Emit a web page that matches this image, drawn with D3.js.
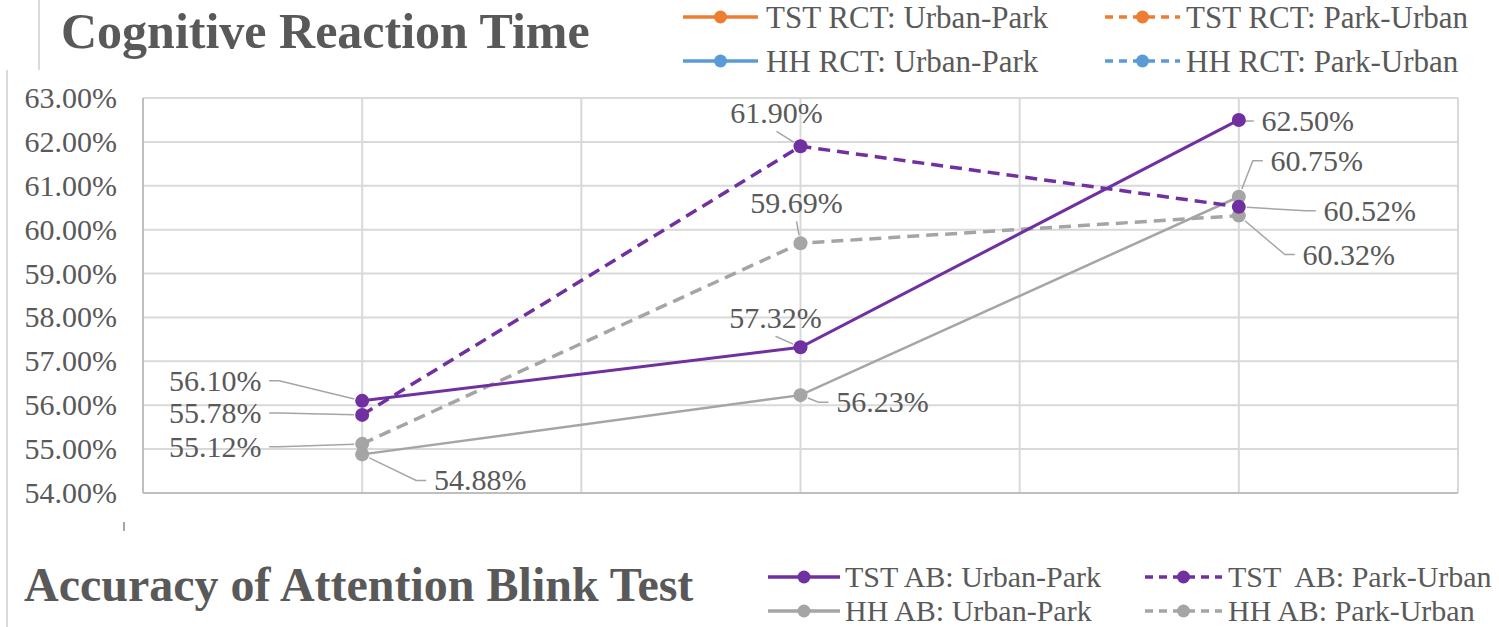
<html>
<head>
<meta charset="utf-8">
<script src="https://cdn.jsdelivr.net/npm/d3@7"></script>
<style>
  body { margin: 0; background: #fff; }
  #wrap { position: relative; width: 1499px; height: 627px; overflow: hidden; }
  #wrap svg { position: absolute; left: 0; top: 0; }
  .lbl { position: absolute; white-space: pre; line-height: 1; color: #595959; font-family: "Liberation Serif"; }
</style>
</head>
<body>
<div id="wrap"><svg id="chart" width="1499" height="627"></svg></div>
<script>
// ---- data ----
const categories = ["Session 1", "Session 2", "Session 3"];
const yTicks = [54, 55, 56, 57, 58, 59, 60, 61, 62, 63];

const tstUrbanPark = [56.10, 57.32, 62.50];
const tstParkUrban = [55.78, 61.90, 60.52];
const hhUrbanPark  = [54.88, 56.23, 60.75];
const hhParkUrban  = [55.12, 59.69, 60.32];

const rctLegendNames = ["TST RCT: Urban-Park", "TST RCT: Park-Urban", "HH RCT: Urban-Park", "HH RCT: Park-Urban"];
const abLegendNames  = ["TST AB: Urban-Park", "TST  AB: Park-Urban", "HH AB: Urban-Park", "HH AB: Park-Urban"];

const titleTop = "Cognitive Reaction Time";
const titleBottom = "Accuracy of Attention Blink Test";

// ---- styling / layout ----
const PURPLE = "#7030A0", GRAY = "#A5A5A5", ORANGE = "#ED7D31", BLUE = "#5B9BD5";
const plot = { left: 143, right: 1458, top: 98, bottom: 493 };

const series = [
  { values: hhUrbanPark,  color: GRAY,   dashed: false, width: 2.5 },
  { values: hhParkUrban,  color: GRAY,   dashed: true,  width: 3.5 },
  { values: tstUrbanPark, color: PURPLE, dashed: false, width: 3 },
  { values: tstParkUrban, color: PURPLE, dashed: true,  width: 3.5 }
];
// data-label offsets (label centre relative to its point), same order as series
const labelOffsets = [
  [[118, 26], [82, 7], [78, -36]],
  [[-147, 3], [-4, -40], [110, 39]],
  [[-147, -20], [-25, -29], [69, 1]],
  [[-147, -2], [-24, -33], [131, 4]]
];

const wrap = d3.select("#wrap");
const svg = d3.select("#chart");
const x = d3.scaleBand().domain(categories).range([plot.left, plot.right]);
const cx = c => x(c) + x.bandwidth() / 2;
const y = d3.scaleLinear().domain([54, 63]).range([plot.bottom, plot.top]);

// text placed at (px, py), vertically centred; anchor: start | middle | end
function addText(px, py, str, size, bold, anchor) {
  const tx = anchor === "middle" ? "-50%" : anchor === "end" ? "-100%" : "0";
  return wrap.append("div").attr("class", "lbl")
    .style("left", px + "px").style("top", py + "px")
    .style("font-size", size + "px").style("font-weight", bold ? "bold" : "normal")
    .style("transform", `translate(${tx},-50%)`)
    .text(str);
}

// panel edge rules
svg.append("line").attr("x1", 39).attr("x2", 39).attr("y1", 0).attr("y2", 70)
  .attr("stroke", "#DADADA").attr("stroke-width", 2);
svg.append("line").attr("x1", 7).attr("x2", 7).attr("y1", 70).attr("y2", 627)
  .attr("stroke", "#DADADA").attr("stroke-width", 2);
svg.append("line").attr("x1", 124).attr("x2", 124).attr("y1", 522).attr("y2", 531)
  .attr("stroke", "#888").attr("stroke-width", 1.5);

// gridlines
const grid = svg.append("g");
grid.selectAll("line.h").data(yTicks).join("line")
  .attr("x1", plot.left).attr("x2", plot.right)
  .attr("y1", d => y(d)).attr("y2", d => y(d))
  .attr("stroke", "#D9D9D9").attr("stroke-width", 2);
const vLines = [];
categories.forEach(c => { vLines.push(x(c)); vLines.push(cx(c)); });
vLines.push(plot.right);
grid.selectAll("line.v").data(vLines).join("line")
  .attr("x1", d => d).attr("x2", d => d)
  .attr("y1", plot.top).attr("y2", plot.bottom)
  .attr("stroke", "#D9D9D9").attr("stroke-width", 2);
svg.append("line").attr("x1", plot.left).attr("x2", plot.left).attr("y1", plot.top).attr("y2", plot.bottom)
  .attr("stroke", "#BFBFBF").attr("stroke-width", 2);
svg.append("line").attr("x1", plot.left).attr("x2", plot.right).attr("y1", plot.bottom).attr("y2", plot.bottom)
  .attr("stroke", "#BFBFBF").attr("stroke-width", 2);

// y-axis tick labels
const fmt = d => d.toFixed(2) + "%";
yTicks.forEach(t => addText(plot.left - 26, y(t), fmt(t), 30, false, "end"));

// leaders, lines, markers, labels
const leaderG = svg.append("g");
const lineG = svg.append("g");
const R = 7;

series.forEach((s, si) => {
  const pts = s.values.map((v, i) => [cx(categories[i]), y(v)]);
  lineG.append("path")
    .attr("d", d3.line()(pts))
    .attr("fill", "none").attr("stroke", s.color).attr("stroke-width", s.width)
    .attr("stroke-dasharray", s.dashed ? "12,7" : null);
  lineG.selectAll(null).data(pts).join("circle")
    .attr("cx", d => d[0]).attr("cy", d => d[1]).attr("r", R).attr("fill", s.color);

  s.values.forEach((v, i) => {
    const [px, py] = pts[i];
    const [dx, dy] = labelOffsets[si][i];
    const lx = px + dx, ly = py + dy;
    addText(lx, ly, fmt(v), 30, false, "middle");
    const hw = 46;
    let p;
    if (dx < -40) {
      const sx = lx + hw + 8;
      p = [[sx, ly], [sx + 10, ly]];
    } else if (dx > 40) {
      const sx = lx - hw - 8;
      p = [[sx, ly], [sx - 10, ly]];
    } else {
      p = [[lx, ly + 18]];
    }
    const last = p[p.length - 1];
    const ang = Math.atan2(last[1] - py, last[0] - px);
    p.push([px + Math.cos(ang) * (R + 1), py + Math.sin(ang) * (R + 1)]);
    leaderG.append("path").attr("d", d3.line()(p))
      .attr("fill", "none").attr("stroke", "#A5A5A5").attr("stroke-width", 1.5);
  });
});

// titles
addText(61, 31, titleTop, 50, true, "start");
addText(24, 585, titleBottom, 48, true, "start");

// legends
function legend(names, colors, dashes, cols, rows, fontSize) {
  names.forEach((n, i) => {
    const c = cols[i % 2], yy = rows[Math.floor(i / 2)];
    const g = svg.append("g");
    g.append("line").attr("x1", c.x0).attr("x2", c.x1).attr("y1", yy).attr("y2", yy)
      .attr("stroke", colors[i]).attr("stroke-width", 3.5)
      .attr("stroke-dasharray", dashes[i] ? "8,6" : null);
    g.append("circle").attr("cx", (c.x0 + c.x1) / 2).attr("cy", yy).attr("r", 6.5).attr("fill", colors[i]);
    addText(c.tx, yy, n, fontSize, false, "start");
  });
}
legend(rctLegendNames, [ORANGE, ORANGE, BLUE, BLUE], [false, true, false, true],
  [{ x0: 683, x1: 758, tx: 766 }, { x0: 1105, x1: 1180, tx: 1186 }], [17, 61], 31);
legend(abLegendNames, [PURPLE, PURPLE, GRAY, GRAY], [false, true, false, true],
  [{ x0: 768, x1: 840, tx: 845 }, { x0: 1145, x1: 1222, tx: 1228 }], [577, 611], 30);
</script>
</body>
</html>
